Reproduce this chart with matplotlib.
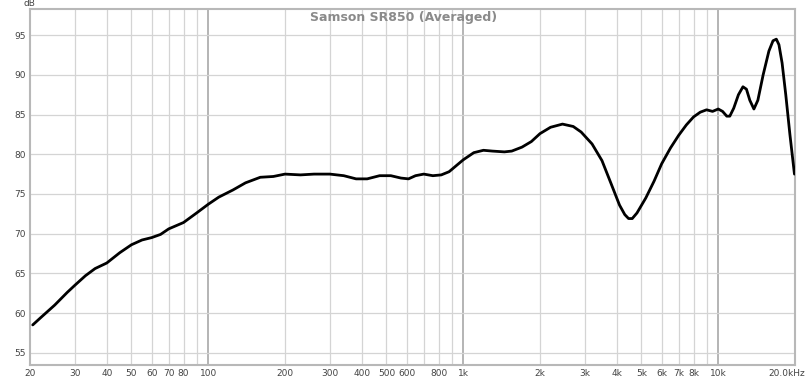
import numpy as np
import matplotlib.pyplot as plt
import matplotlib.transforms as mtransforms

# --- data ---
freq = [20.5, 22, 25, 28, 30, 33, 36, 40, 45, 50, 55, 60, 65, 70, 80, 90,
        100, 110, 125, 140, 160, 180, 200, 230, 260, 300, 340, 380, 420, 470,
        520, 570, 610, 650, 700, 760, 820, 880, 950, 1000, 1100, 1200, 1300,
        1450, 1550, 1700, 1850, 2000, 2200, 2450, 2700, 2900, 3200, 3500,
        3800, 4100, 4300, 4450, 4600, 4800, 5200, 5600, 6000, 6500, 7000,
        7500, 8000, 8500, 9000, 9500, 10000, 10400, 10800, 11100, 11500,
        12000, 12500, 12900, 13300, 13800, 14300, 15000, 15800, 16400, 16900,
        17300, 17800, 18400, 19100, 19900]
spl = [58.5, 59.4, 61.0, 62.6, 63.5, 64.7, 65.6, 66.3, 67.6, 68.6, 69.2,
       69.5, 69.9, 70.6, 71.4, 72.6, 73.7, 74.6, 75.5, 76.4, 77.1, 77.2,
       77.5, 77.4, 77.5, 77.5, 77.3, 76.9, 76.9, 77.3, 77.3, 77.0, 76.9,
       77.3, 77.5, 77.3, 77.4, 77.8, 78.7, 79.3, 80.2, 80.5, 80.4, 80.3,
       80.4, 80.9, 81.6, 82.6, 83.4, 83.8, 83.5, 82.8, 81.3, 79.2, 76.3,
       73.6, 72.4, 71.9, 71.9, 72.6, 74.5, 76.6, 78.8, 80.8, 82.4, 83.7,
       84.7, 85.3, 85.6, 85.4, 85.7, 85.4, 84.8, 84.8, 85.8, 87.5, 88.5,
       88.2, 86.8, 85.7, 86.8, 90.0, 93.0, 94.3, 94.5, 93.8, 91.5, 87.5,
       82.5, 77.5]

xticks = [20, 30, 40, 50, 60, 70, 80, 100, 200, 300, 400, 500, 600, 800,
          1000, 2000, 3000, 4000, 5000, 6000, 7000, 8000, 10000, 20000]
xlabels = ["20", "30", "40", "50", "60", "70", "80", "100", "200", "300",
           "400", "500", "600", "800", "1k", "2k", "3k", "4k", "5k", "6k",
           "7k", "8k", "10k", "20.0kHz"]
yticks = [55, 60, 65, 70, 75, 80, 85, 90, 95]

fig = plt.figure(figsize=(8.09, 3.79), dpi=100)
ax = fig.add_axes([30 / 809, 14 / 379, 765 / 809, 356 / 379])

ax.set_xscale('log')
ax.set_xlim(20, 20000)
ax.set_ylim(53.45, 98.3)

# grid: minor lines light, decades darker
for d in [20, 30, 40, 50, 60, 70, 80, 90]:
    for m in [1, 10, 100]:
        f = d * m
        if 20 < f < 20000:
            ax.axvline(f, color='#d4d4d4', lw=0.9, zorder=0)
for f in [100, 1000, 10000]:
    ax.axvline(f, color='#a8a8a8', lw=1.2, zorder=0)
for y in yticks:
    ax.axhline(y, color='#d4d4d4', lw=0.9, zorder=0)

ax.plot(freq, spl, color='black', lw=2.0, solid_joinstyle='round',
        solid_capstyle='round', zorder=3)

ax.set_xticks(xticks)
ax.set_xticklabels(xlabels)
ax.xaxis.set_minor_locator(plt.NullLocator())
ax.set_yticks(yticks)
ax.tick_params(length=0, labelsize=6.5, colors='#444444', pad=3)

# last label sits just inside the right edge of the figure
last = ax.get_xticklabels()[-1]
last.set_ha('right')
last.set_transform(last.get_transform() +
                   mtransforms.ScaledTranslation(10 / 100, 0, fig.dpi_scale_trans))

for s in ax.spines.values():
    s.set_color('#b8b8b8')
    s.set_linewidth(1.5)

fig.text(23 / 809, 1 - 4 / 379, "dB", fontsize=6.5, color='#444444',
         ha='left', va='center')
fig.text(404 / 809, 1 - 17 / 379, "Samson SR850 (Averaged)", fontsize=9,
         color='#8a8a8a', fontweight='bold', ha='center', va='center')

fig.savefig('out.png', dpi=100)
